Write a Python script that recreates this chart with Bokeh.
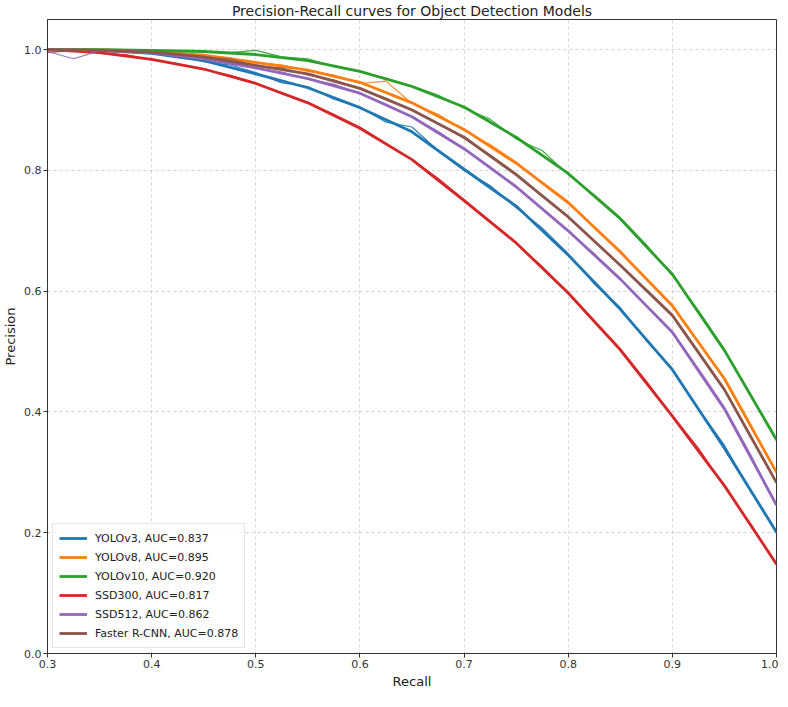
from bokeh.plotting import figure
from bokeh.models import FixedTicker, NumeralTickFormatter, Range1d, Legend, LegendItem
from bokeh.embed import file_html
from bokeh.resources import INLINE

# ---- data ----
models = ["YOLOv3", "YOLOv8", "YOLOv10", "SSD300", "SSD512", "Faster R-CNN"]
auc = ["0.837", "0.895", "0.920", "0.817", "0.862", "0.878"]
colors = ["#1f77b4", "#ff7f0e", "#2ca02c", "#d62728", "#9467bd", "#8c564b"]

recall = [0.30, 0.35, 0.40, 0.45, 0.50, 0.55, 0.60, 0.65, 0.70, 0.75, 0.80, 0.85, 0.90, 0.95, 1.00]

smooth_yolov3 = [1.000, 0.999, 0.994, 0.982, 0.960, 0.937, 0.904, 0.864, 0.802, 0.741, 0.660, 0.570, 0.470, 0.340, 0.201]
smooth_yolov8 = [1.000, 1.000, 0.997, 0.991, 0.979, 0.966, 0.946, 0.912, 0.868, 0.812, 0.747, 0.665, 0.576, 0.455, 0.300]
smooth_yolov10 = [1.000, 1.000, 0.999, 0.997, 0.992, 0.982, 0.964, 0.939, 0.905, 0.855, 0.795, 0.720, 0.628, 0.502, 0.354]
smooth_ssd300 = [1.000, 0.995, 0.984, 0.968, 0.944, 0.912, 0.870, 0.818, 0.750, 0.680, 0.597, 0.503, 0.393, 0.278, 0.148]
smooth_ssd512 = [1.000, 0.999, 0.995, 0.985, 0.970, 0.952, 0.928, 0.889, 0.836, 0.773, 0.700, 0.620, 0.532, 0.405, 0.246]
smooth_frcnn = [1.000, 0.999, 0.996, 0.988, 0.974, 0.960, 0.936, 0.900, 0.855, 0.793, 0.723, 0.643, 0.560, 0.437, 0.283]

recall_raw = [0.300, 0.325, 0.350, 0.375, 0.400, 0.425, 0.450, 0.475, 0.500, 0.525,
              0.550, 0.575, 0.600, 0.625, 0.650, 0.675, 0.700, 0.725, 0.750, 0.775,
              0.800, 0.825, 0.850, 0.875, 0.900, 0.925, 0.950, 0.975, 1.000]

raw_yolov3 = [0.998, 1.000, 0.997, 0.998, 0.993, 0.990, 0.980, 0.975, 0.962, 0.945,
              0.939, 0.918, 0.905, 0.880, 0.872, 0.833, 0.800, 0.775, 0.738, 0.705,
              0.662, 0.612, 0.573, 0.518, 0.472, 0.405, 0.345, 0.270, 0.199]
raw_yolov8 = [1.000, 0.999, 1.000, 0.998, 0.996, 0.995, 0.990, 0.987, 0.978, 0.975,
              0.964, 0.958, 0.944, 0.948, 0.911, 0.893, 0.866, 0.843, 0.814, 0.778,
              0.745, 0.707, 0.667, 0.620, 0.578, 0.515, 0.457, 0.380, 0.298]
raw_yolov10 = [1.000, 1.000, 0.999, 1.000, 0.999, 0.998, 0.997, 0.995, 0.999, 0.988,
               0.985, 0.972, 0.963, 0.953, 0.940, 0.925, 0.903, 0.885, 0.852, 0.833,
               0.793, 0.760, 0.722, 0.677, 0.626, 0.568, 0.504, 0.430, 0.352]
raw_ssd300 = [0.995, 0.999, 0.994, 0.992, 0.983, 0.977, 0.967, 0.958, 0.945, 0.927,
              0.913, 0.893, 0.872, 0.845, 0.818, 0.787, 0.752, 0.716, 0.679, 0.641,
              0.598, 0.551, 0.505, 0.451, 0.394, 0.340, 0.276, 0.215, 0.147]
raw_ssd512 = [0.997, 0.985, 0.998, 0.996, 0.994, 0.992, 0.984, 0.979, 0.969, 0.963,
              0.951, 0.943, 0.927, 0.910, 0.888, 0.865, 0.835, 0.806, 0.772, 0.737,
              0.699, 0.662, 0.621, 0.576, 0.533, 0.472, 0.408, 0.330, 0.245]
raw_frcnn = [1.000, 0.998, 1.000, 0.997, 0.997, 0.993, 0.987, 0.985, 0.973, 0.970,
             0.958, 0.950, 0.935, 0.920, 0.901, 0.878, 0.853, 0.826, 0.795, 0.758,
             0.724, 0.684, 0.642, 0.603, 0.561, 0.500, 0.438, 0.362, 0.282]

x_ticks = [0.3, 0.4, 0.5, 0.6, 0.7, 0.8, 0.9, 1.0]
y_ticks = [0.0, 0.2, 0.4, 0.6, 0.8, 1.0]

smooth_all = [smooth_yolov3, smooth_yolov8, smooth_yolov10, smooth_ssd300, smooth_ssd512, smooth_frcnn]
raw_all = [raw_yolov3, raw_yolov8, raw_yolov10, raw_ssd300, raw_ssd512, raw_frcnn]

FONT = "DejaVu Sans"

p = figure(width=778, height=691, output_backend="svg", toolbar_location=None,
           x_range=Range1d(0.3, 1.0), y_range=Range1d(0.0, 1.05),
           title="Precision-Recall curves for Object Detection Models",
           x_axis_label="Recall", y_axis_label="Precision",
           min_border_left=0, min_border_right=2, min_border_top=0, min_border_bottom=0)

p.title.align = "center"
p.title.text_font = FONT
p.title.text_font_size = "14px"
p.title.text_font_style = "normal"
p.title.text_color = "#222222"
p.title.standoff = 1
p.title.offset = 0

for ax in (p.xaxis, p.yaxis):
    ax.axis_label_text_font = FONT
    ax.axis_label_text_font_size = "13px"
    ax.axis_label_text_font_style = "normal"
    ax.axis_label_text_color = "#222222"
    ax.major_label_text_font = FONT
    ax.major_label_text_font_size = "11px"
    ax.major_label_text_color = "#333333"
    ax.axis_line_color = "#333333"
    ax.major_tick_line_color = "#333333"
    ax.major_tick_out = 4
    ax.major_tick_in = 0
    ax.minor_tick_line_color = None
    ax.major_label_standoff = 2
    ax.axis_label_standoff = 3
    ax.formatter = NumeralTickFormatter(format="0.0")

p.xaxis.ticker = FixedTicker(ticks=x_ticks)
p.yaxis.ticker = FixedTicker(ticks=y_ticks)

p.xgrid.ticker = FixedTicker(ticks=x_ticks)
p.ygrid.ticker = FixedTicker(ticks=y_ticks)
for g in (p.xgrid, p.ygrid):
    g.grid_line_color = "#bbbbbb"
    g.grid_line_dash = "3 3"
    g.grid_line_alpha = 0.8
    g.grid_line_width = 0.8

p.outline_line_color = "#333333"
p.outline_line_width = 1
p.background_fill_color = "white"
p.border_fill_color = "white"

items = []
for name, a, c, sm, rw in zip(models, auc, colors, smooth_all, raw_all):
    p.line(recall_raw, rw, line_color=c, line_width=1.2, line_alpha=0.9)
    r = p.line(recall, sm, line_color=c, line_width=2.8)
    items.append(LegendItem(label=f"{name}, AUC={a}", renderers=[r]))

legend = Legend(items=items, location="bottom_left")
legend.label_text_font = FONT
legend.label_text_font_size = "11px"
legend.label_text_color = "#222222"
legend.glyph_width = 28
legend.glyph_height = 16
legend.label_height = 16
legend.spacing = 3
legend.padding = 6
legend.margin = 5
legend.label_standoff = 8
legend.border_line_color = "#cccccc"
legend.border_line_width = 1
legend.background_fill_alpha = 0.85
p.add_layout(legend)

open("out.html", "w").write(file_html(p, INLINE))
